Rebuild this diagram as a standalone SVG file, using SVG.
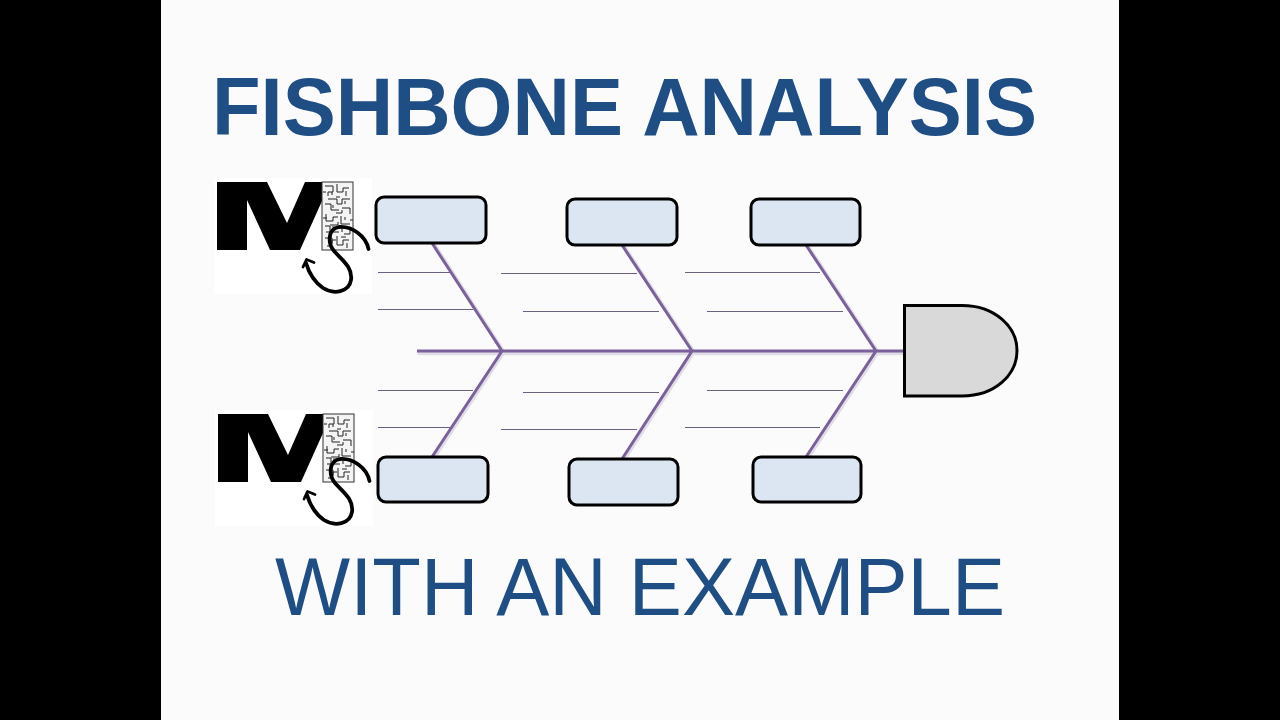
<svg xmlns="http://www.w3.org/2000/svg" width="1280" height="720" viewBox="0 0 1280 720">
<style>
.t{font-family:"Liberation Sans",Arial,sans-serif;fill:#1f4e84}
.box{fill:#dce6f3;stroke:#000;stroke-width:3}
.thin{stroke:#6a5f7c;stroke-width:1;fill:none}
.bone{stroke:#7a619c;stroke-width:3;fill:none;stroke-linecap:butt}
.shade{stroke:#cfcad8;stroke-width:3.500;fill:none;opacity:.6}
.mz{stroke:#222;stroke-width:1;fill:none}
</style>
<defs>
<g id="logo">
<rect x="214" y="178" width="158" height="116" fill="#fff"/>
<polygon points="217,182 267,182 287,223 305,182 322,182 322,201 300,250 270,250 247,200 247,250 217,250" fill="#000"/>
<rect x="322" y="182" width="31" height="68" fill="#f4f4f4" stroke="#333" stroke-width="1"/>
<path class="mz" d="M325 186h8v6h-5v4M337 184v8h6v-4h6M328 199h9v5h5v-5h8M325 204h6v6h8M342 208h8v6M326 214v7h7v-4h5M341 216v8h9M325 226h5v6h-4M333 226v6h6M343 228h7v6h-6M325 238h7v6M337 236v9h6v-5h6M347 243v5M346 191v5M327 246h4M332 195v-3M340 197h-4M323 192h3M333 208v-3M345 204v-3M336 213h6v-3M327 218h-4M345 220v-3M350 220h3M338 222v3h-8M342 232v-4M336 240h-4v3M341 237h5"/>
<path d="M368.500 249C366 236 352 226 339 227C327 229 328 244 334 251C341 259 353 267 351 280C349 292 334 295 323 288C313 281 309 273 306 263" fill="none" stroke="#000" stroke-width="3.800" stroke-linecap="round"/>
<path d="M303 267L306.500 259.500L314 262.500" fill="none" stroke="#000" stroke-width="2.800" stroke-linecap="round" stroke-linejoin="round"/>
</g>
</defs>
<rect width="1280" height="720" fill="#000"/>
<rect x="161" width="958" height="720" fill="#fbfbfb"/>
<text class="t" x="212" y="135" font-size="82" font-weight="700" textLength="825" lengthAdjust="spacingAndGlyphs">FISHBONE ANALYSIS</text>
<text class="t" x="275" y="615" font-size="82" textLength="730" lengthAdjust="spacingAndGlyphs">WITH AN EXAMPLE</text>
<g id="logo-top"><use href="#logo"/></g>
<g id="logo-bottom"><use href="#logo" x="1" y="232"/></g>
<g id="connectors">
<path class="thin" d="M378 272.500H451M378 309.500H473M501 273.500H637M523 311.500H659M685 272.500H820M707 311.500H843M378 390.500H473M378 427.500H451M523 392.500H659M501 429.500H637M707 390.500H843M685 427.500H820"/>
<path class="shade" d="M418 353.500H904M434 244L504 352L434 458M624 246L694 352L624 460M808 246L878 352L808 458"/>
<path class="bone" d="M417 351H904M432 243L502 351L432 457M622 245L692 351L622 459M806 245L876 351L806 457"/>
</g>
<g id="box-1"><rect class="box" x="376" y="197" width="110" height="46" rx="8"/></g>
<g id="box-2"><rect class="box" x="567" y="199" width="110" height="46" rx="8"/></g>
<g id="box-3"><rect class="box" x="751" y="199" width="109" height="46" rx="8"/></g>
<g id="box-4"><rect class="box" x="378" y="457" width="110" height="45" rx="8"/></g>
<g id="box-5"><rect class="box" x="569" y="459" width="109" height="46" rx="8"/></g>
<g id="box-6"><rect class="box" x="753" y="457" width="108" height="45" rx="8"/></g>
<g id="head"><path d="M904.500 305.500H962C995 305.500 1017 327 1017 350.500C1017 375 995 396 962 396H904.500Z" fill="#d9d9d9" stroke="#000" stroke-width="3"/></g>
</svg>
